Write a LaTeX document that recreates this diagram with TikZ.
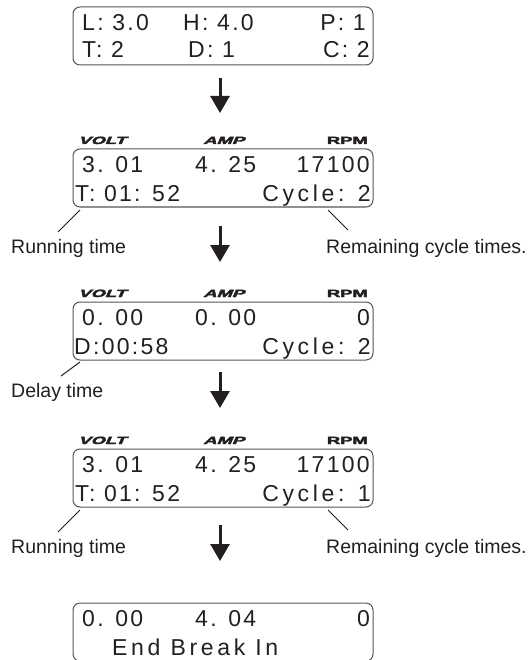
\documentclass[tikz,border=0pt]{standalone}
\usepackage{fontspec}
\usepackage{graphicx}
\setmainfont{Liberation Sans}
\newfontfamily\lcdfont[LetterSpace=10]{Liberation Sans}
\newfontfamily\lcdwide[LetterSpace=16]{Liberation Sans}
\newfontfamily\unitfont[FakeBold=3]{Liberation Sans Bold}
\newfontfamily\unitslant[FakeBold=3,FakeSlant=0.25]{Liberation Sans Bold}
\usetikzlibrary{arrows.meta}
\definecolor{txt}{HTML}{231F20}
\definecolor{edge}{HTML}{555555}
\tikzset{
  panel/.style={draw=edge, line width=1pt, rounded corners=7pt, minimum width=300pt,
    minimum height=58pt, inner sep=0pt, outer sep=0pt, anchor=north west},
  lcd/.style={font=\lcdfont\fontsize{23}{25}\selectfont, text=txt, inner sep=0pt, anchor=base west},
  lcdr/.style={lcd, anchor=base east},
  lcdw/.style={lcd, font=\lcdwide\fontsize{23}{25}\selectfont},
  lcdwr/.style={lcdw, anchor=base east},
  unitl/.style={font=\fontsize{10.5}{11}\selectfont, text=txt, inner sep=0pt, anchor=base west},
  unitr/.style={unitl, anchor=base east},
  note/.style={font=\fontsize{19.5}{21}\selectfont, text=txt, inner sep=0pt, anchor=base west},
  lead/.style={draw=txt, line width=1pt},
  flow/.style={draw=txt, line width=3pt, -{Triangle[width=19pt,length=17pt]}}
}
\newcommand{\unitV}{\scalebox{1.75}[1]{\unitslant VOLT}}
\newcommand{\unitA}{\scalebox{1.75}[1]{\unitslant AMP}}
\newcommand{\unitR}{\scalebox{1.75}[1]{\unitfont RPM}}
\begin{document}
\begin{tikzpicture}[x=1pt, y=-1pt]
\useasboundingbox (0,0) rectangle (531,660);
% ---------- panel 1
\node[panel] (b1) at (73,7) {};
\node[lcd] (b1a) at (82,30.5) {L: 3.0};
\node[lcd] (b1b) at (183,30.5) {H: 4.0};
\node[lcdr] (b1c) at (366,30.5) {P: 1};
\node[lcd] (b1d) at (82,58) {T: 2};
\node[lcd] (b1e) at (188,58) {D: 1};
\node[lcdr] (b1f) at (370,58) {C: 2};
\coordinate (a1s) at (220,78);
\coordinate (a1e) at (220,113);
\draw[flow] (a1s) -- (a1e);
% ---------- panel 2
\node[unitl] (u2v) at (78,144) {\unitV};
\node[unitl] (u2a) at (203,144) {\unitA};
\node[unitr] (u2r) at (368,144) {\unitR};
\node[panel] (b2) at (73,149) {};
\node[lcd] (b2a) at (82,172.5) {3. 01};
\node[lcd] (b2b) at (195,172.5) {4. 25};
\node[lcdr] (b2c) at (370,172.5) {17100};
\node[lcd] (b2d) at (75,201) {T: 01: 52};
\node[lcdwr] (b2e) at (371,201) {Cycle: 2};
\coordinate (l2a) at (80,210);
\coordinate (l2b) at (58,232);
\coordinate (r2a) at (328,210);
\coordinate (r2b) at (348,230);
\draw[lead] (l2a) -- (l2b);
\draw[lead] (r2a) -- (r2b);
\node[note] (n2l) at (11,253) {Running time};
\node[note] (n2r) at (326,253) {Remaining cycle times.};
\coordinate (a2s) at (220,226);
\coordinate (a2e) at (220,262);
\draw[flow] (a2s) -- (a2e);
% ---------- panel 3
\node[unitl] (u3v) at (78,297) {\unitV};
\node[unitl] (u3a) at (203,297) {\unitA};
\node[unitr] (u3r) at (368,297) {\unitR};
\node[panel] (b3) at (73,302) {};
\node[lcd] (b3a) at (82,325.5) {0. 00};
\node[lcd] (b3b) at (195,325.5) {0. 00};
\node[lcdr] (b3c) at (370,325.5) {0};
\node[lcd] (b3d) at (74,354) {D:00:58};
\node[lcdwr] (b3e) at (371,354) {Cycle: 2};
\coordinate (l3a) at (80,362);
\coordinate (l3b) at (61,376);
\draw[lead] (l3a) -- (l3b);
\node[note] (n3l) at (11,397) {Delay time};
\coordinate (a3s) at (220,372);
\coordinate (a3e) at (220,408);
\draw[flow] (a3s) -- (a3e);
% ---------- panel 4
\node[unitl] (u4v) at (78,444) {\unitV};
\node[unitl] (u4a) at (203,444) {\unitA};
\node[unitr] (u4r) at (368,444) {\unitR};
\node[panel] (b4) at (73,449) {};
\node[lcd] (b4a) at (82,472.5) {3. 01};
\node[lcd] (b4b) at (195,472.5) {4. 25};
\node[lcdr] (b4c) at (370,472.5) {17100};
\node[lcd] (b4d) at (75,501) {T: 01: 52};
\node[lcdwr] (b4e) at (371,501) {Cycle: 1};
\coordinate (l4a) at (80,510);
\coordinate (l4b) at (58,532);
\coordinate (r4a) at (328,510);
\coordinate (r4b) at (348,530);
\draw[lead] (l4a) -- (l4b);
\draw[lead] (r4a) -- (r4b);
\node[note] (n4l) at (11,553) {Running time};
\node[note] (n4r) at (326,553) {Remaining cycle times.};
\coordinate (a4s) at (220,525);
\coordinate (a4e) at (220,561);
\draw[flow] (a4s) -- (a4e);
% ---------- panel 5
\node[panel] (b5) at (73,603) {};
\node[lcd] (b5a) at (82,626.5) {0. 00};
\node[lcd] (b5b) at (195,626.5) {4. 04};
\node[lcdr] (b5c) at (370,626.5) {0};
\node[lcdw] (b5d) at (112,655) {End Break In};
\end{tikzpicture}
\end{document}
